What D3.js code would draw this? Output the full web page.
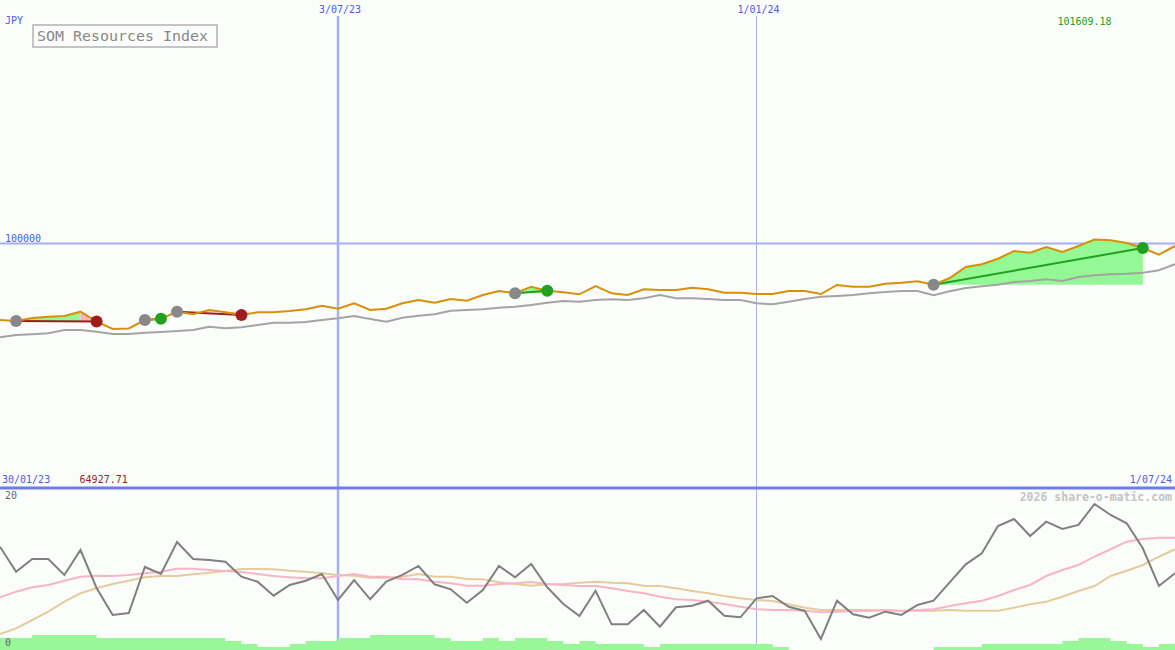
<!DOCTYPE html>
<html>
<head>
<meta charset="utf-8">
<script src="https://cdn.jsdelivr.net/npm/d3@7"></script>
<style>
  body { margin: 0; background: #fbfdfb; }
  svg { display: block; font-family: "DejaVu Sans Mono", monospace; }
</style>
</head>
<body>
<div id="chart"></div>
<script>
// chart size
var svgWidth = 1175;
var svgHeight = 650;

// weekly closes of the index (JPY)
var price = [68584, 68173, 69405, 69939, 70226, 71992, 67967, 64927.71, 65100, 68584,
  69117, 71992, 70924, 72690, 71746, 70637, 71746, 71746, 72280, 72978,
  74456, 73224, 75442, 72690, 73224, 75442, 76797, 75688, 77208, 76510,
  78851, 80493, 79549, 82259, 80617, 79959, 79138, 82547, 79549, 78851,
  81191, 80904, 80904, 81849, 81191, 79795, 79795, 79261, 79261, 80493,
  80493, 79261, 82957, 82259, 82259, 83491, 83902, 84477, 83040, 85832,
  90350, 91458, 93758, 96920, 96222, 98563, 96510, 98974, 101609.18, 101315,
  100206, 98152, 95401, 98974];

// moving average under the price
var average = [61479, 62423, 62711, 63121, 64477, 64477, 63779, 62834, 62834, 63368,
  63655, 64066, 64477, 65832, 65175, 65586, 66530, 67475, 67475, 67762,
  68584, 69282, 70226, 68994, 67885, 69528, 70349, 70924, 72403, 72690,
  72978, 73635, 74046, 74744, 75688, 76386, 76099, 76797, 77085, 76797,
  77495, 78851, 77495, 77495, 77208, 76797, 76797, 75442, 75031, 76099,
  77208, 78153, 78440, 78851, 79590, 80083, 80493, 80493, 78728, 80370,
  81725, 82424, 83081, 84189, 84600, 85298, 84600, 86243, 86941, 87352,
  87598, 88009, 88994, 91458];

// lower panel: oscillator and its two smoothings
var oscillator = [12.91, 9.79, 11.38, 11.38, 9.38, 12.5, 7.75, 4.38, 4.63, 10.38,
  9.5, 13.5, 11.38, 11.25, 11.04, 9.16, 8.54, 6.79, 8.13, 8.66,
  9.5, 6.25, 8.75, 6.34, 8.54, 9.38, 10.5, 8.21, 7.59, 5.91,
  7.5, 10.5, 9.09, 10.75, 7.84, 5.75, 4.25, 7.41, 3.21, 3.21,
  5.0, 2.91, 5.34, 5.54, 6.16, 4.29, 4.09, 6.46, 6.75, 5.41,
  4.88, 1.38, 6.16, 4.46, 4.04, 4.79, 4.38, 5.63, 6.16, 8.46,
  10.71, 12.09, 15.5, 16.38, 14.25, 16.04, 15.13, 15.63, 18.25, 16.88,
  15.84, 12.71, 8.0, 9.59];
var oscFast = [6.59, 7.29, 7.84, 8.13, 8.66, 9.16, 9.29, 9.25, 9.38, 9.59,
  9.79, 10.16, 10.16, 10.0, 9.88, 9.75, 9.5, 9.25, 9.09, 8.96,
  8.96, 9.25, 9.5, 9.16, 9.16, 8.84, 8.84, 8.54, 8.34, 8.04,
  8.04, 8.25, 8.34, 8.5, 8.25, 8.13, 8.0, 8.0, 7.71, 7.38,
  7.09, 6.66, 6.34, 6.25, 6.04, 5.75, 5.41, 5.09, 5.0, 5.0,
  4.91, 4.71, 4.79, 4.88, 4.88, 5.0, 4.88, 5.0, 5.09, 5.5,
  5.84, 6.16, 6.75, 7.5, 8.13, 9.25, 10.0, 10.63, 11.66, 12.59,
  13.54, 13.88, 14.04, 14.04];
var oscSlow = [2.0, 2.71, 3.75, 4.79, 6.04, 7.09, 7.71, 8.25, 8.66, 9.09,
  9.25, 9.25, 9.46, 9.66, 9.88, 10.13, 10.13, 10.09, 9.91, 9.79,
  9.59, 9.38, 9.29, 9.04, 9.04, 9.16, 9.5, 9.16, 9.16, 8.88,
  8.84, 8.46, 8.25, 8.04, 8.21, 8.25, 8.41, 8.54, 8.41, 8.34,
  8.04, 8.0, 7.71, 7.38, 7.09, 6.75, 6.46, 6.25, 6.13, 5.71,
  5.29, 5.0, 5.0, 5.0, 5.0, 4.91, 4.91, 4.91, 4.91, 5.0,
  4.91, 4.91, 4.91, 5.29, 5.71, 6.04, 6.66, 7.38, 8.0, 9.25,
  9.91, 10.63, 11.66, 12.59];
var volume = [4, 4, 5, 5, 5, 5, 4, 4, 4, 4,
  4, 4, 4, 4, 3, 2, 1, 1, 2, 3,
  3, 4, 4, 5, 5, 5, 5, 4, 3, 3,
  4, 3, 4, 4, 3, 2, 3, 2, 2, 2,
  1, 2, 2, 2, 2, 2, 2, 2, 1, 0,
  0, 0, 0, 0, 0, 0, 0, 0, 1, 1,
  1, 2, 2, 2, 2, 2, 3, 4, 4, 3,
  2, 1, 2, 2];

// trades: entry week, exit week, outcome
var tradeEntry = [1, 9, 11, 32, 58];
var tradeExit = [6, 10, 15, 34, 71];
var tradeWin = [false, true, false, true, true];

// date labels
var startLabel = "30/01/23";
var endLabel = "1/07/24";
var gridLabels = ["3/07/23", "1/01/24"];
var gridWeeks = [21, 47];
var priceLine = 100000;
var title = "SOM Resources Index";

var topHeight = 487;

var svg = d3.select("#chart").append("svg")
  .attr("width", svgWidth)
  .attr("height", svgHeight);

svg.append("rect").attr("width", svgWidth).attr("height", svgHeight).attr("fill", "#fbfdfb");

// scales
var xScale = d3.scaleLinear().domain([0, price.length - 1]).range([0, svgWidth]);
var yPrice = d3.scaleLinear().domain([0, 200000]).range([topHeight, 0]);
var yOsc = d3.scaleLinear().domain([0, 20]).range([650, 490]);
var yVol = d3.scaleLinear().domain([0, 50]).range([650, 500]);

var blue = "#4c5ce6";

// vertical grid lines
gridWeeks.forEach(function(w, i) {
  svg.append("line")
    .attr("x1", xScale(w)).attr("x2", xScale(w))
    .attr("y1", 16).attr("y2", svgHeight)
    .attr("stroke", i === 0 ? "#a4b0f2" : "#a8b0e0")
    .attr("stroke-width", i === 0 ? 2.5 : 1);
  svg.append("text")
    .attr("x", xScale(w) + 2).attr("y", 13)
    .attr("text-anchor", "middle")
    .attr("font-size", "10px")
    .attr("fill", blue)
    .text(gridLabels[i]);
});

// 100000 line
svg.append("line")
  .attr("x1", 0).attr("x2", svgWidth)
  .attr("y1", yPrice(priceLine)).attr("y2", yPrice(priceLine))
  .attr("stroke", "#a4b0f2").attr("stroke-width", 2);
svg.append("text")
  .attr("x", 5).attr("y", yPrice(priceLine) - 2)
  .attr("font-size", "10px").attr("fill", blue)
  .text(priceLine);

// panel separator
svg.append("line")
  .attr("x1", 0).attr("x2", svgWidth)
  .attr("y1", topHeight + 1).attr("y2", topHeight + 1)
  .attr("stroke", "#6c7ce8").attr("stroke-width", 3);

// volume steps
var volArea = d3.area()
  .curve(d3.curveStepAfter)
  .x(function(d, i) { return xScale(i); })
  .y0(yVol(0))
  .y1(function(d) { return yVol(d); });
svg.append("path").datum(volume)
  .attr("d", volArea)
  .attr("fill", "#98f898");

// trade fills, between price and entry level, in runs of one colour
tradeEntry.forEach(function(e, t) {
  var base = yPrice(price[e]);
  var seg = d3.area()
    .x(function(d) { return xScale(d); })
    .y0(base)
    .y1(function(d) { return yPrice(price[d]); });
  var run = [e];
  var colour = null;
  for (var i = e; i < tradeExit[t]; i++) {
    var c = (tradeWin[t] || price[i + 1] >= price[i]) ? "#94f894" : "#f8b4c4";
    if (colour !== null && c !== colour) {
      svg.append("path").datum(run).attr("d", seg).attr("fill", colour);
      run = [i];
    }
    colour = c;
    run.push(i + 1);
  }
  svg.append("path").datum(run).attr("d", seg).attr("fill", colour);
});

// trade lines
tradeEntry.forEach(function(e, t) {
  svg.append("line")
    .attr("x1", xScale(e)).attr("y1", yPrice(price[e]))
    .attr("x2", xScale(tradeExit[t])).attr("y2", yPrice(price[tradeExit[t]]))
    .attr("stroke", tradeWin[t] ? "#22a022" : "#a01c1c")
    .attr("stroke-width", 2);
});

var line = function(scale) {
  return d3.line()
    .x(function(d, i) { return xScale(i); })
    .y(function(d) { return scale(d); });
};

svg.append("path").datum(average)
  .attr("d", line(yPrice))
  .attr("fill", "none").attr("stroke", "#a4a4a4").attr("stroke-width", 2);
svg.append("path").datum(price)
  .attr("d", line(yPrice))
  .attr("fill", "none").attr("stroke", "#d99008").attr("stroke-width", 2);

// trade markers
tradeEntry.forEach(function(e, t) {
  svg.append("circle")
    .attr("cx", xScale(e)).attr("cy", yPrice(price[e])).attr("r", 6)
    .attr("fill", "#888888");
  svg.append("circle")
    .attr("cx", xScale(tradeExit[t])).attr("cy", yPrice(price[tradeExit[t]])).attr("r", 6)
    .attr("fill", tradeWin[t] ? "#22a022" : "#a01c1c");
});

// lower panel lines
svg.append("path").datum(oscSlow)
  .attr("d", line(yOsc))
  .attr("fill", "none").attr("stroke", "#e4cc9c").attr("stroke-width", 2);
svg.append("path").datum(oscFast)
  .attr("d", line(yOsc))
  .attr("fill", "none").attr("stroke", "#f8b4c8").attr("stroke-width", 2);
svg.append("path").datum(oscillator)
  .attr("d", line(yOsc))
  .attr("fill", "none").attr("stroke", "#808080").attr("stroke-width", 2);

// labels
svg.append("text").attr("x", 5).attr("y", 24)
  .attr("font-size", "10px").attr("fill", blue).text("JPY");

svg.append("rect")
  .attr("x", 33).attr("y", 25).attr("width", 184).attr("height", 22)
  .attr("fill", "none").attr("stroke", "#c4c4c4").attr("stroke-width", 2);
svg.append("text").attr("x", 37).attr("y", 41)
  .attr("font-size", "14px").attr("fill", "#888888")
  .attr("textLength", 171).attr("lengthAdjust", "spacingAndGlyphs")
  .text(title);

var maxIdx = price.indexOf(d3.max(price));
var minIdx = price.indexOf(d3.min(price));
svg.append("text").attr("x", xScale(maxIdx) - 10).attr("y", 25)
  .attr("text-anchor", "middle")
  .attr("font-size", "10px").attr("fill", "#20a020")
  .text(d3.max(price).toFixed(2));
svg.append("text").attr("x", xScale(minIdx) - 9).attr("y", 483)
  .attr("text-anchor", "middle")
  .attr("font-size", "10px").attr("fill", "#a01c1c")
  .text(d3.min(price).toFixed(2));

svg.append("text").attr("x", 2).attr("y", 483)
  .attr("font-size", "10px").attr("fill", blue).text(startLabel);
svg.append("text").attr("x", 1172).attr("y", 483)
  .attr("text-anchor", "end")
  .attr("font-size", "10px").attr("fill", blue).text(endLabel);

svg.append("text").attr("x", 5).attr("y", 499)
  .attr("font-size", "10px").attr("fill", "#666666").text("20");
svg.append("text").attr("x", 5).attr("y", 646)
  .attr("font-size", "10px").attr("fill", "#666666").text("0");

svg.append("text").attr("x", 1172).attr("y", 501)
  .attr("text-anchor", "end")
  .attr("font-size", "11.5px").attr("font-weight", "bold").attr("fill", "#c4c4c4")
  .text("2026 share-o-matic.com");
</script>
</body>
</html>
